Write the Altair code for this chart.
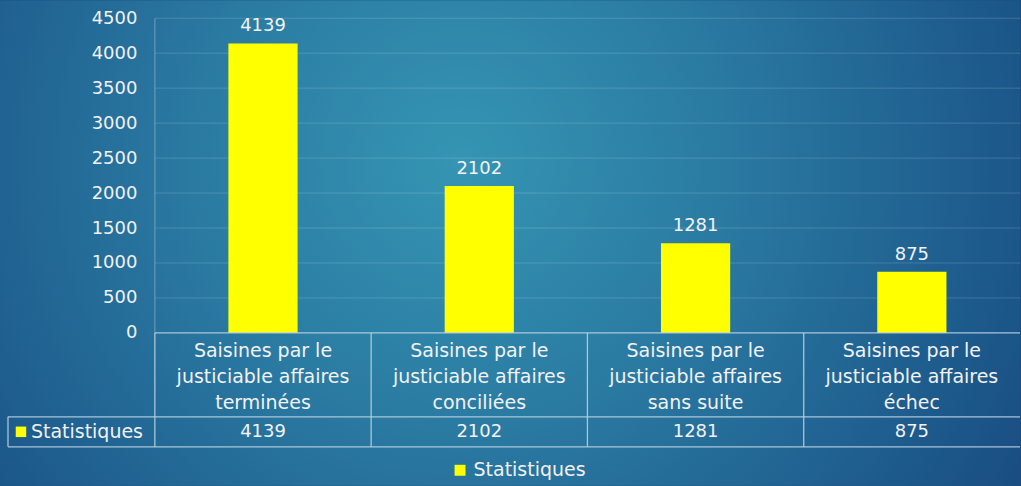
import altair as alt
import pandas as pd

categories = [
    "Saisines par le\njusticiable affaires\nterminées",
    "Saisines par le\njusticiable affaires\nconciliées",
    "Saisines par le\njusticiable affaires\nsans suite",
    "Saisines par le\njusticiable affaires\néchec",
]
values = [4139, 2102, 1281, 875]
series_name = "Statistiques"
y_ticks = [0, 500, 1000, 1500, 2000, 2500, 3000, 3500, 4000, 4500]

W, H = 866, 315
LEFT, TOP, BOTTOM = 155, 18, 153
FONT = "DejaVu Sans"
TABLE_LINE = "#b9cfe0"
YELLOW = "#ffff00"

df = pd.DataFrame({"cat": categories, "value": values, "series": [series_name] * len(values)})
ticks_df = pd.DataFrame({"tick": y_ticks})
one = pd.DataFrame({"k": [0]})

x_enc = alt.X("cat:N", sort=categories, scale=alt.Scale(paddingInner=0, paddingOuter=0), axis=None)
y_scale = alt.Scale(domain=[0, 4500])
y_axis = alt.Axis(
    values=y_ticks, format="d", title=None, labelFontSize=18, labelColor="#f2f2f2",
    labelFont=FONT, labelPadding=18, ticks=False, grid=False, domain=False, zindex=1,
)

bg = alt.Chart(one).mark_rect(
    color=alt.RadialGradient(
        gradient="radial",
        x1=0.45, y1=0.42, x2=0.45, y2=0.42, r1=0, r2=0.75,
        stops=[
            alt.GradientStop(color="#3595b3", offset=0),
            alt.GradientStop(color="#2a7aa2", offset=0.35),
            alt.GradientStop(color="#1d5a8c", offset=0.7),
            alt.GradientStop(color="#163f76", offset=1),
        ],
    )
).encode(x=alt.value(-LEFT), x2=alt.value(W), y=alt.value(-TOP), y2=alt.value(H + BOTTOM))

grid = alt.Chart(ticks_df).transform_filter("datum.tick > 0").mark_rule(
    color="#ffffff", opacity=0.16, strokeWidth=1
).encode(y=alt.Y("tick:Q", scale=y_scale, axis=y_axis), x=alt.value(0), x2=alt.value(W))

bars = alt.Chart(df).mark_bar(width=alt.RelativeBandSize(band=0.32)).encode(
    x=x_enc,
    y=alt.Y("value:Q", scale=y_scale, axis=y_axis),
    color=alt.Color(
        "series:N",
        scale=alt.Scale(range=[YELLOW]),
        legend=alt.Legend(
            title=None, orient="none", legendX=296, legendY=H + 128, symbolType="square",
            symbolSize=120, symbolStrokeWidth=0, labelFontSize=19, labelFont=FONT,
            labelColor="#f2f2f2", padding=0, symbolOffset=0, labelOffset=4,
        ),
    ),
)

bar_labels = alt.Chart(df).mark_text(
    baseline="bottom", dy=-8, fontSize=18, font=FONT, color="#f2f2f2"
).encode(x=x_enc, y=alt.Y("value:Q", scale=y_scale, axis=y_axis), text="value:Q")

cat_text = alt.Chart(df).mark_text(
    lineBreak="\n", fontSize=19, font=FONT, color="#f2f2f2", baseline="middle", lineHeight=26
).encode(x=x_enc, y=alt.value(H + 18), text="cat:N")

val_text = alt.Chart(df).mark_text(
    fontSize=18, font=FONT, color="#f2f2f2", baseline="middle"
).encode(x=x_enc, y=alt.value(H + 99), text="value:Q")

key_square = alt.Chart(one).mark_square(size=110, color=YELLOW, opacity=1).encode(
    x=alt.value(-134), y=alt.value(H + 99)
)
key_text = alt.Chart(one).mark_text(
    align="left", baseline="middle", fontSize=19, font=FONT, color="#f2f2f2", text=series_name
).encode(x=alt.value(-124), y=alt.value(H + 99))


def hline(y, x1, x2, color=TABLE_LINE, op=0.9):
    return alt.Chart(one).mark_rule(color=color, opacity=op, strokeWidth=1.3).encode(
        x=alt.value(x1), x2=alt.value(x2), y=alt.value(y)
    )


def vline(x, y1, y2, color=TABLE_LINE, op=0.9):
    return alt.Chart(one).mark_rule(color=color, opacity=op, strokeWidth=1.3).encode(
        x=alt.value(x), y=alt.value(y1), y2=alt.value(y2)
    )


lines = [
    hline(H, 0, W),
    hline(H + 84, -147, W),
    hline(H + 114, -147, W),
    vline(-147, H + 84, H + 114),
    vline(0, 0, H, color="#ffffff", op=0.25),
    vline(0, H, H + 114),
    vline(W / 4, H, H + 114),
    vline(W / 2, H, H + 114),
    vline(3 * W / 4, H, H + 114),
]

chart = alt.layer(
    bg, grid, bars, bar_labels, cat_text, val_text, key_square, key_text, *lines
).properties(
    width=W, height=H, padding=0, background="#1a4c80"
).configure_view(strokeWidth=0)

chart.save("out.html", embed_options={"renderer": "svg", "actions": False})
